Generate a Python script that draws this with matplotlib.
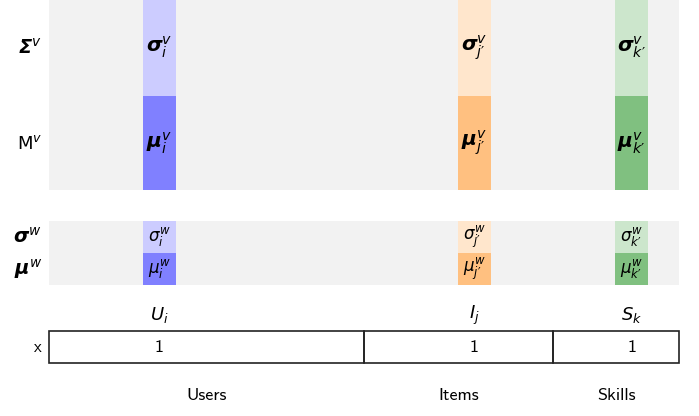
import matplotlib
matplotlib.use("Agg")
import matplotlib.pyplot as plt
from matplotlib.patches import Rectangle

# ---- data ----
groups = ["Users", "Items", "Skills"]
group_sizes = [5, 3, 2]
entity_labels = ["$U_i$", "$I_j$", "$S_k$"]
entity_offsets = [1.75, 1.75, 1.25]
onehot_values = ["1", "1", "1"]
subscripts = ["i", r"j\prime", r"k\prime"]
base_colors = ["#0000ff", "#ff8000", "#008000"]
row_labels_v = [r"$\mathbfit{\Sigma}^v$", r"$\mathrm{M}^v$"]
row_labels_w = [r"$\mathbfit{\sigma}^w$", r"$\mathbfit{\mu}^w$"]

plt.rcParams["font.family"] = ["cmss10", "DejaVu Sans"]
plt.rcParams["mathtext.fontset"] = "custom"
plt.rcParams["mathtext.rm"] = "DejaVu Sans"
plt.rcParams["mathtext.it"] = "DejaVu Sans:italic"
plt.rcParams["mathtext.bf"] = "DejaVu Sans:bold"
plt.rcParams["mathtext.bfit"] = "DejaVu Sans:italic:bold"

W, H = 699, 416
fig = plt.figure(figsize=(W / 100, H / 100), dpi=100)
ax = fig.add_axes([0, 0, 1, 1])
px = 63.0
x0 = 49.0
ax.set_xlim(-x0 / px, (W - x0) / px)
ax.set_ylim(H, 0)
ax.axis("off")

total = sum(group_sizes)
starts = [sum(group_sizes[:k]) for k in range(len(group_sizes))]
centers = [s + o for s, o in zip(starts, entity_offsets)]
colw = 0.52

def blend(c, a):
    c = matplotlib.colors.to_rgb(c)
    return tuple(1 - a + a * v for v in c)

# panel geometry (pixel rows)
top_y, top_mid, top_bot = 0, 95.5, 190
w_top, w_mid, w_bot = 220.7, 252.7, 284.7
bg = "#f2f2f2"

ax.add_patch(Rectangle((0, top_y), total, top_bot - top_y, color=bg, lw=0))
ax.add_patch(Rectangle((0, w_top), total, w_bot - w_top, color=bg, lw=0))

for c, col, sub in zip(centers, base_colors, subscripts):
    light, dark = blend(col, 0.2), blend(col, 0.5)
    ax.add_patch(Rectangle((c - colw / 2, top_y), colw, top_mid - top_y, color=light, lw=0))
    ax.add_patch(Rectangle((c - colw / 2, top_mid), colw, top_bot - top_mid, color=dark, lw=0))
    ax.add_patch(Rectangle((c - colw / 2, w_top), colw, w_mid - w_top, color=light, lw=0))
    ax.add_patch(Rectangle((c - colw / 2, w_mid), colw, w_bot - w_mid, color=dark, lw=0))
    ax.text(c, (top_y + top_mid) / 2, r"$\mathbfit{\sigma}_{%s}^v$" % sub, ha="center", va="center", fontsize=14.5)
    ax.text(c, (top_mid + top_bot) / 2, r"$\mathbfit{\mu}_{%s}^v$" % sub, ha="center", va="center", fontsize=14.5)
    ax.text(c, (w_top + w_mid) / 2, r"$\sigma_{%s}^w$" % sub, ha="center", va="center", fontsize=12)
    ax.text(c, (w_mid + w_bot) / 2, r"$\mu_{%s}^w$" % sub, ha="center", va="center", fontsize=12)

lab_x = -7 / px
ax.text(lab_x, (top_y + top_mid) / 2, row_labels_v[0], ha="right", va="center", fontsize=14)
ax.text(lab_x, (top_mid + top_bot) / 2, row_labels_v[1], ha="right", va="center", fontsize=13)
ax.text(lab_x, (w_top + w_mid) / 2, row_labels_w[0], ha="right", va="center", fontsize=14)
ax.text(lab_x, (w_mid + w_bot) / 2, row_labels_w[1], ha="right", va="center", fontsize=14)

# one-hot box
b_top, b_bot = 331.3, 362.7
for s, size, c, lab, val, g in zip(starts, group_sizes, centers, entity_labels, onehot_values, groups):
    ax.add_patch(Rectangle((s, b_top), size, b_bot - b_top, fill=False, ec="#222222", lw=1.2))
    ax.text(c, (b_top + b_bot) / 2, val, ha="center", va="center", fontsize=13)
    ax.text(c, 315, lab, ha="center", va="center", fontsize=13)
    ax.text(s + size / 2, 395, g, ha="center", va="center", fontsize=13)
ax.text(lab_x, (b_top + b_bot) / 2, "x", ha="right", va="center", fontsize=12)

fig.savefig("out.png", dpi=100)
